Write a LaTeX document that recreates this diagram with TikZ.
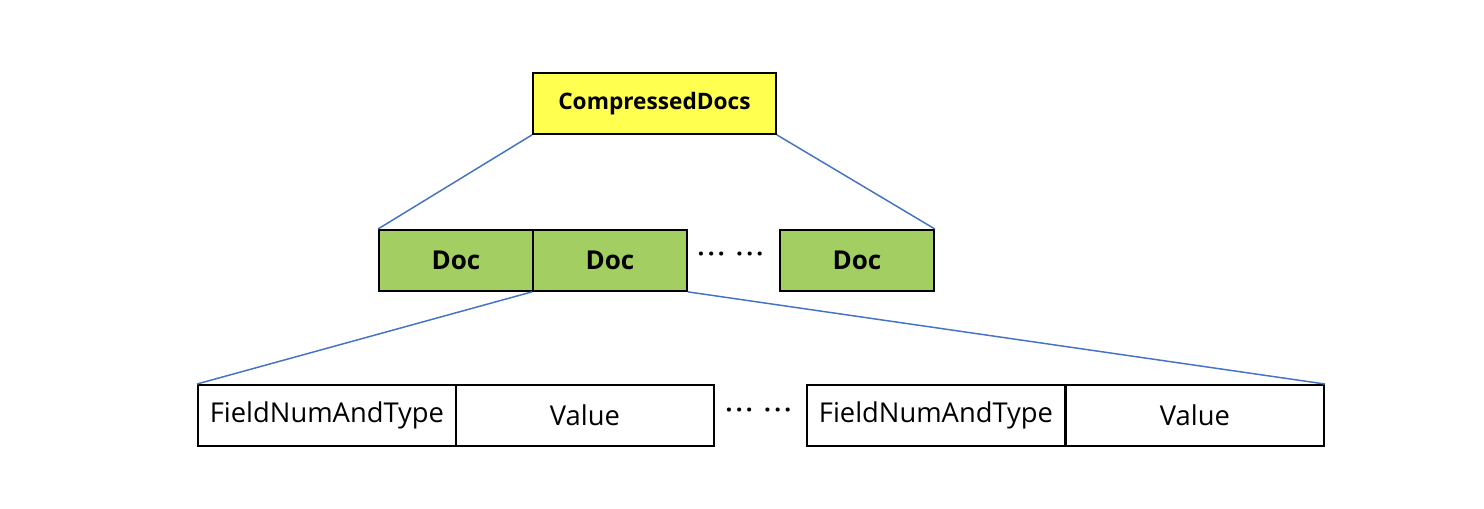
\documentclass[tikz,border=0pt]{standalone}
\usepackage{fontspec}
\setmainfont{Open Sans}
\newcommand{\dotgroup}{·\kern2.5pt·\kern2.5pt·}
\newcommand{\mydots}{\dotgroup\kern8.5pt\dotgroup}
\begin{document}
\begin{tikzpicture}[x=0.75pt,y=-0.75pt,
  box/.style={draw=black,line width=1.4pt,anchor=north west,inner sep=0pt,minimum height=61*0.75pt},
  ybox/.style={box,fill=yellowfill,font=\bfseries\fontsize{17}{20}\selectfont},
  gbox/.style={box,fill=greenfill,minimum width=154*0.75pt,font=\bfseries\fontsize{19.5}{22}\selectfont},
  wbox/.style={box,fill=white,minimum width=258*0.75pt,font=\fontsize{20.5}{23}\selectfont},
  link/.style={draw=linkblue,line width=1.1pt},
  dots/.style={inner sep=0pt,font=\bfseries\fontsize{18}{20}\selectfont}]
\definecolor{yellowfill}{HTML}{FFFF4F}
\definecolor{greenfill}{HTML}{A3CF62}
\definecolor{linkblue}{HTML}{4472C4}
\useasboundingbox (0,0) rectangle (1484,508);
\fill[white] (0,0) rectangle (1484,508);
% top
\node[ybox,minimum width=243*0.75pt] (cd) at (532,72) {CompressedDocs};
% docs
\node[gbox] (d1) at (378,229) {Doc};
\node[gbox] (d2) at (532,229) {Doc};
\node[gbox] (d3) at (779,229) {Doc};
\node[dots] (dd) at (730.5,257) {\mydots};
% fields
\node[wbox] (f1) at (197,384) {FieldNumAndType};
\node[wbox] (v1) at (455,384) {Value};
\node[wbox] (f2) at (806,384) {FieldNumAndType};
\node[wbox] (v2) at (1065,384) {Value};
\node[dots] (fd) at (758.5,413) {\mydots};
% links
\draw[link] (cd.south west) -- (d1.north west);
\draw[link] (cd.south east) -- (d3.north east);
\draw[link] (d2.south west) -- (f1.north west);
\draw[link] (d2.south east) -- (v2.north east);
\end{tikzpicture}
\end{document}
